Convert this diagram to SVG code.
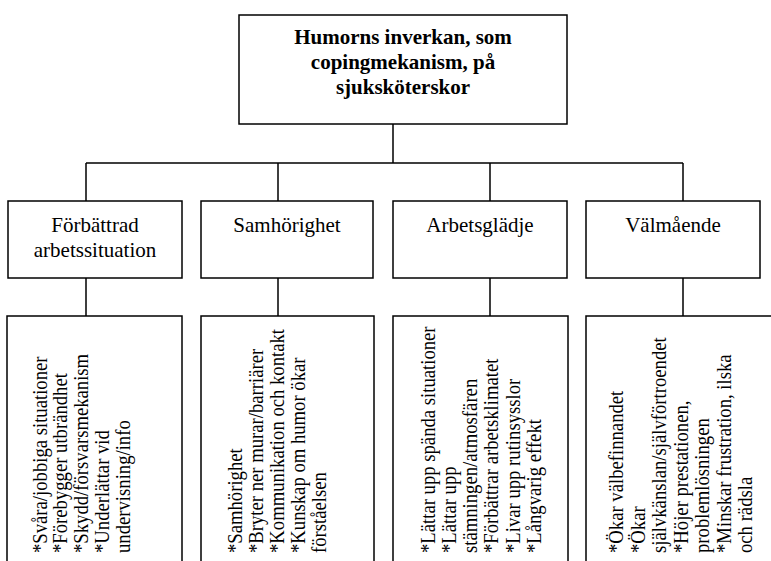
<svg xmlns="http://www.w3.org/2000/svg" width="771" height="561" viewBox="0 0 771 561" font-family="'Liberation Serif', 'Times New Roman', Tinos, 'DejaVu Serif', serif">
<style>
.box{fill:#fff;stroke:#000;stroke-width:1.5}
.ln{stroke:#000;stroke-width:1.5;fill:none}
text{font-family:'Liberation Serif','Times New Roman',Tinos,'DejaVu Serif',serif;font-size:21px;fill:#000}
.tb{font-weight:bold;text-anchor:middle}
.tc{text-anchor:middle}
</style>
<rect width="771" height="561" fill="#fff"/>
<g id="connectors">
<path class="ln" d="M393,124V163M86,163H683M86,163V201M278,163V201M490,163V201M683,163V201M86,278V316M278,278V316M490,278V316M683,278V316"/>
</g>
<g id="root">
<rect class="box" x="239" y="15" width="328" height="109"/>
<text class="tb" x="403" y="44">Humorns inverkan, som</text>
<text class="tb" x="403" y="69">copingmekanism, på</text>
<text class="tb" x="403" y="94">sjuksköterskor</text>
</g>
<g id="n1">
<rect class="box" x="8" y="201" width="174" height="77"/>
<text class="tc" x="95" y="232">Förbättrad</text>
<text class="tc" x="95" y="257">arbetssituation</text>
</g>
<g id="n2">
<rect class="box" x="201" y="201" width="172" height="77"/>
<text class="tc" x="287" y="232">Samhörighet</text>
</g>
<g id="n3">
<rect class="box" x="393" y="201" width="174" height="77"/>
<text class="tc" x="480" y="232">Arbetsglädje</text>
</g>
<g id="n4">
<rect class="box" x="586" y="201" width="174" height="77"/>
<text class="tc" x="673" y="232">Välmående</text>
</g>
<g id="d1">
<rect class="box" x="7" y="316" width="175" height="260"/>
<text transform="translate(46.5,553) rotate(-90) scale(0.89,1)">*Svåra/jobbiga situationer</text>
<text transform="translate(67,553) rotate(-90) scale(0.89,1)">*Förebygger utbrändhet</text>
<text transform="translate(88,553) rotate(-90) scale(0.89,1)">*Skydd/försvarsmekanism</text>
<text transform="translate(109,553) rotate(-90) scale(0.89,1)">*Underlättar vid</text>
<text transform="translate(129.5,553) rotate(-90) scale(0.89,1)">undervisning/info</text>
</g>
<g id="d2">
<rect class="box" x="201" y="316" width="173" height="260"/>
<text transform="translate(242,553) rotate(-90) scale(0.89,1)">*Samhörighet</text>
<text transform="translate(263,553) rotate(-90) scale(0.89,1)">*Bryter ner murar/barriärer</text>
<text transform="translate(284,553) rotate(-90) scale(0.89,1)">*Kommunikation och kontakt</text>
<text transform="translate(305,553) rotate(-90) scale(0.89,1)">*Kunskap om humor ökar</text>
<text transform="translate(326,553) rotate(-90) scale(0.89,1)">förståelsen</text>
</g>
<g id="d3">
<rect class="box" x="393" y="316" width="175" height="260"/>
<text transform="translate(435,553) rotate(-90) scale(0.89,1)">*Lättar upp spända situationer</text>
<text transform="translate(456,553) rotate(-90) scale(0.89,1)">*Lättar upp</text>
<text transform="translate(477,553) rotate(-90) scale(0.89,1)">stämningen/atmosfären</text>
<text transform="translate(498,553) rotate(-90) scale(0.89,1)">*Förbättrar arbetsklimatet</text>
<text transform="translate(520,553) rotate(-90) scale(0.89,1)">*Livar upp rutinsysslor</text>
<text transform="translate(541,553) rotate(-90) scale(0.89,1)">*Långvarig effekt</text>
</g>
<g id="d4">
<rect class="box" x="586" y="316" width="200" height="260"/>
<text transform="translate(623,553) rotate(-90) scale(0.89,1)">*Ökar välbefinnandet</text>
<text transform="translate(645,553) rotate(-90) scale(0.89,1)">*Ökar</text>
<text transform="translate(666,553) rotate(-90) scale(0.89,1)">självkänslan/självförtroendet</text>
<text transform="translate(688,553) rotate(-90) scale(0.89,1)">*Höjer prestationen,</text>
<text transform="translate(709,553) rotate(-90) scale(0.89,1)">problemlösningen</text>
<text transform="translate(731,553) rotate(-90) scale(0.89,1)">*Minskar frustration, ilska</text>
<text transform="translate(752,553) rotate(-90) scale(0.89,1)">och rädsla</text>
</g>
</svg>
